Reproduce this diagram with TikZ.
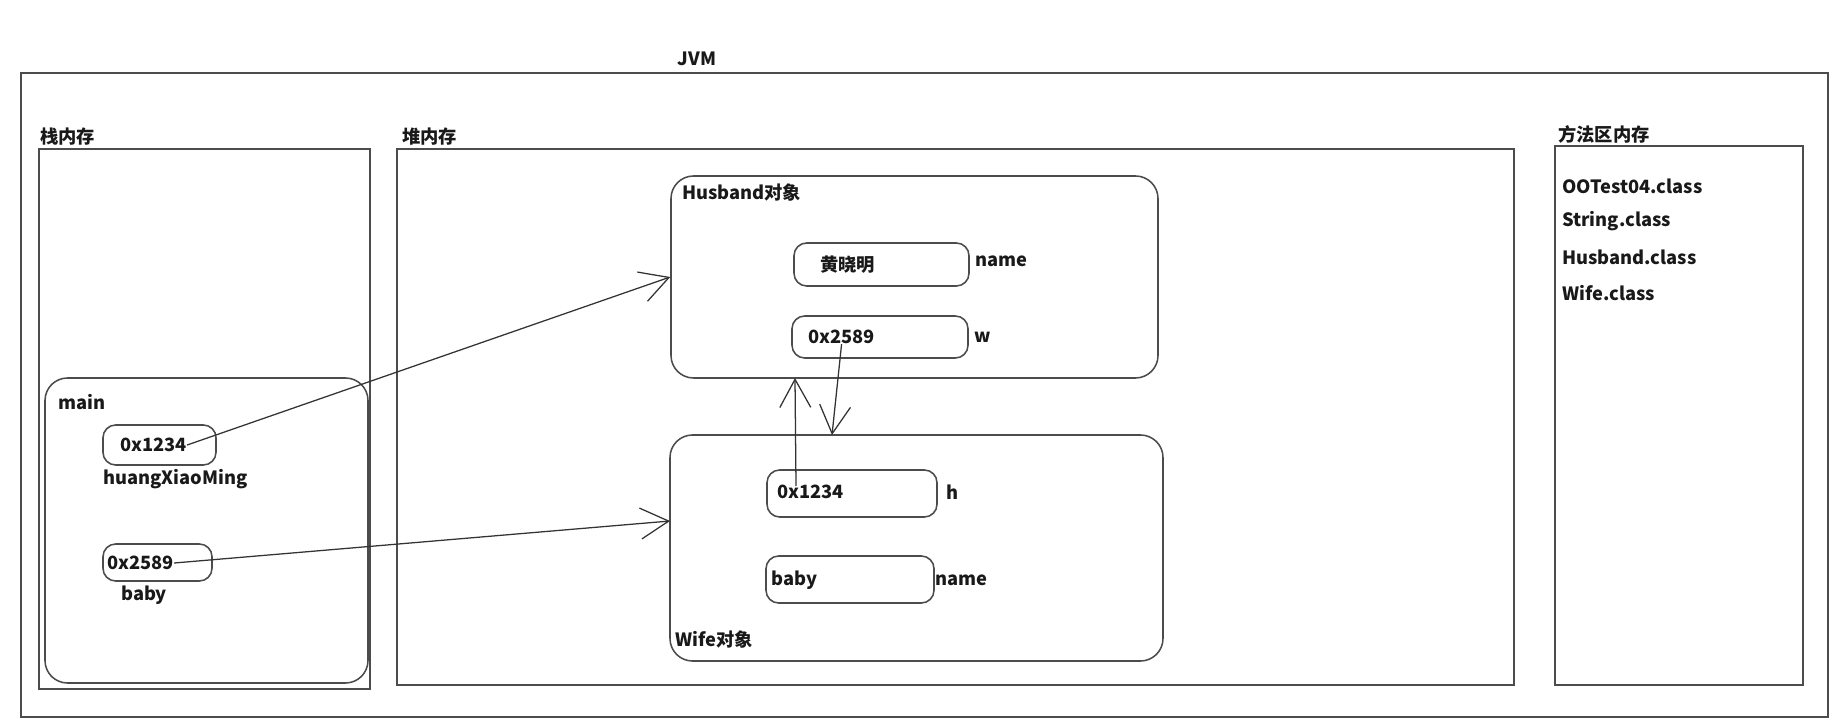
\documentclass[tikz,border=0pt]{standalone}
\usepackage{fontspec}
\setmainfont{Noto Sans CJK SC}
\usetikzlibrary{arrows.meta, fit, positioning}

\begin{document}
\begin{tikzpicture}[x=0.025cm, y=-0.025cm,
    font=\fontsize{13}{15}\selectfont\bfseries,
    region/.style={draw=black!70, line width=1.1pt, inner sep=0pt},
    objbox/.style={region, rounded corners=16pt},
    cell/.style={region, rounded corners=9pt},
    lbl/.style={anchor=west, inner sep=0pt, text=black!90},
    ref/.style={draw=black!80, line width=0.9pt, -{Straight Barb[length=20pt, width=22pt]}}]
  \useasboundingbox (0,0) rectangle (1837,727);

  % areas
  \node[region, fit={(21,73) (1828,717)}] (jvm) {};
  \node[lbl, anchor=center] (jvmtitle) at (697,59) {JVM};
  \node[region, fit={(39,149) (370,689)}] (stack) {};
  \node[lbl] (stacktitle) at (40,137) {栈内存};
  \node[region, fit={(397,149) (1514,685)}] (heap) {};
  \node[lbl] (heaptitle) at (402,137) {堆内存};
  \node[region, fit={(1555,146) (1803,685)}] (method) {};
  \node[lbl] (methodtitle) at (1558,134) {方法区内存};

  % stack frame of main
  \node[objbox, fit={(45,378) (368,683)}] (mainframe) {};
  \node[lbl] (maintitle) at (58,402) {main};
  \node[cell, fit={(103,425) (216,465)}] (hxm) {};
  \node[lbl] (hxmval) at (120,445) {0x1234};
  \node[lbl] (hxmname) at (103,479) {huangXiaoMing};
  \node[cell, fit={(103,544) (212,581)}] (babyref) {};
  \node[lbl] (babyval) at (107,563) {0x2589};
  \node[lbl] (babyname) at (121,595) {baby};

  % Husband object
  \node[objbox, fit={(671,176) (1158,378)}] (husband) {};
  \node[lbl] (husbandtitle) at (682,193) {Husband对象};
  \node[cell, fit={(794,243) (969,286)}] (hname) {};
  \node[lbl] (hnameval) at (820,265) {黄晓明};
  \node[lbl] (hnamelbl) at (975,261) {name};
  \node[cell, fit={(792,316) (968,358)}] (hw) {};
  \node[lbl] (hwval) at (808,337) {0x2589};
  \node[lbl] (hwlbl) at (974,337) {w};

  % Wife object
  \node[objbox, fit={(670,435) (1163,661)}] (wife) {};
  \node[lbl] (wifetitle) at (675,640) {Wife对象};
  \node[cell, fit={(767,470) (937,517)}] (wh) {};
  \node[lbl] (whval) at (777,492) {0x1234};
  \node[lbl] (whlbl) at (946,492) {h};
  \node[cell, fit={(766,556) (934,603)}] (wname) {};
  \node[lbl] (wnameval) at (771,580) {baby};
  \node[lbl] (wnamelbl) at (935,580) {name};

  % loaded classes
  \node[lbl] (c1) at (1562,186) {OOTest04.class};
  \node[lbl] (c2) at (1562,221) {String.class};
  \node[lbl] (c3) at (1562,257) {Husband.class};
  \node[lbl] (c4) at (1562,293) {Wife.class};

  % references
  \coordinate (wifein) at (670,521);
  \coordinate (wifetop) at (832,435);
  \coordinate (hsrc) at (796,486);
  \coordinate (husbot) at (795,378);
  \draw[ref] (hxmval.east) -- (husband.west);
  \draw[ref] (babyval.east) -- (wifein);
  \draw[ref] (hwval.south) -- (wifetop);
  \draw[ref] (hsrc) -- (husbot);
\end{tikzpicture}
\end{document}
